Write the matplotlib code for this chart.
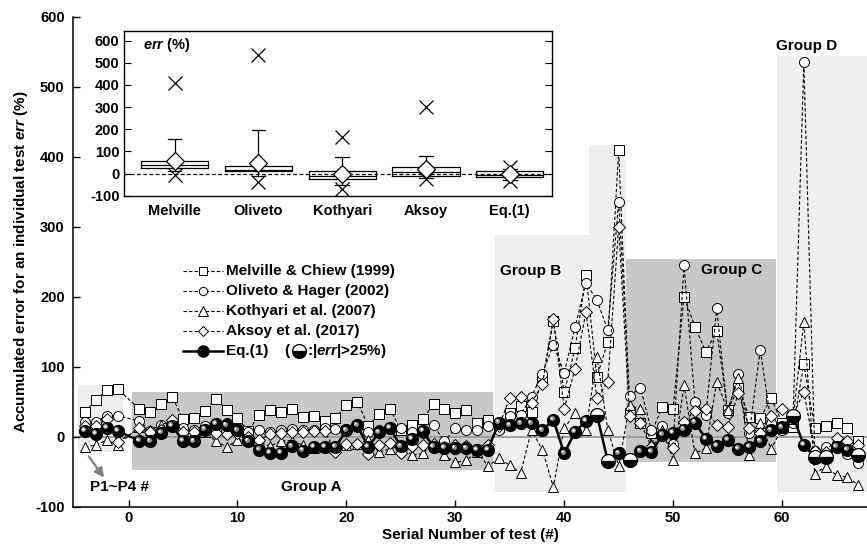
import numpy as np
import matplotlib
matplotlib.use("Agg")
import matplotlib.pyplot as plt
from matplotlib.patches import Rectangle
from matplotlib.lines import Line2D
from matplotlib.transforms import offset_copy

plt.rcParams['font.family'] = ['Liberation Sans', 'DejaVu Sans']
plt.rcParams['font.weight'] = 'bold'
plt.rcParams['axes.unicode_minus'] = False
plt.rcParams['mathtext.fontset'] = 'custom'
plt.rcParams['mathtext.it'] = 'Liberation Sans:italic:bold'
plt.rcParams['mathtext.rm'] = 'Liberation Sans:bold'

# P1~P4 sit at -4..-1, the tests proper run 1..67
tests = [-4, -3, -2, -1] + list(range(1, 68))

melville = [35, 52, 66, 68,
            39, 35, 46, 57, 25, 27, 37, 54, 38, 26,
            8, 31, 38, 35, 40, 28, 30, 22, 26, 45,
            50, 15, 32, 39, 10, 17, 25, 46, 40, 33,
            38, 19, 24, 14, 33, 44, 35, 81, 165, 63,
            126, 231, 85, 135, 409, 33, 19, 5, 42, 40,
            200, 157, 121, 151, 38, 69, 28, 26, 55, 20,
            14, 103, 12, 15, 19, 12, -7]
oliveto = [21, 21, 30, 30,
           22, 8, 16, 20, 12, 10, 15, 8, 20, 12,
           7, 10, 6, 10, 11, 10, 10, 12, 11, 11,
           14, 7, 10, 14, 12, 7, 5, 16, -7, 12,
           10, 9, 15, 10, 30, 31, 57, 90, 131, 91,
           157, 219, 195, 152, 335, 58, 70, 9, 15, -10,
           245, 50, 31, 183, 33, 90, 5, 124, 19, 10,
           20, 535, -20, -15, -10, -25, -38]
kothyari = [-15, -12, -5, -12,
            14, 10, 16, 24, 8, 7, 6, -6, -15, -5,
            -5, -8, -14, -6, -6, -12, -16, -15, -17, -12,
            -10, -5, -22, -18, -12, -27, -24, -10, -27, -37,
            -34, -22, -42, -31, -41, -52, 9, -19, -72, 12,
            33, 10, 114, 10, -42, 45, 39, -10, 9, -33,
            73, -24, -17, 78, 38, 83, -26, 19, -18, 12,
            25, 164, -53, -43, -55, -58, -69]
aksoy = [15, 15, 25, -8,
         12, 7, 10, 24, 7, 7, 10, 5, 3, 5,
         0, -5, 3, 5, 6, 7, 8, 8, -22, -11,
         -10, -25, -12, -9, -24, -14, -12, -10, -15, -12,
         -14, -20, -12, 15, 55, 56, 48, 75, 168, 40,
         97, 178, 55, 78, 300, 30, 20, -15, 3, -17,
         21, 37, 40, 16, 14, 62, 12, 5, 30, 39,
         30, 64, -20, -22, -2, -7, -12]
eq1 = [8, 4, 12, 8,
       -6, -7, 5, 15, -6, -7, 10, 18, 16, 9,
       -7, -19, -23, -23, -14, -20, -15, -15, -15, 9,
       16, -15, 6, 12, -14, -3, 8, -15, -16, -17,
       -17, -19, -19, 20, 16, 19, 19, 9, 24, -24,
       7, 22, 31, -35, -24, -34, -21, -22, 2, 5,
       10, 20, -3, -13, -5, -18, -15, -7, 9, 13,
       29, -12, -29, -29, -15, -19, -27]

labels = ["Melville & Chiew (1999)", "Oliveto & Hager (2002)",
          "Kothyari et al. (2007)", "Aksoy et al. (2017)"]
short_names = ["Melville", "Oliveto", "Kothyari", "Aksoy", "Eq.(1)"]

# shaded test groups: (x0, x1, y0, y1, shade)
groups = [(-4.65, -0.52, -22, 74, 'light'),
          (0.34, 33.5, -48, 63, 'dark'),
          (33.6, 45.7, -79, 288, 'light'),
          (42.3, 45.7, 288, 416, 'light'),
          (45.7, 59.4, -37, 253, 'dark'),
          (59.5, 68.5, -79, 543, 'light')]
group_text = [("P1~P4 #", -0.8, -72), ("Group A", 16.8, -72),
              ("Group B", 36.9, 236), ("Group C", 55.4, 238),
              ("Group D", 62.3, 558)]
shade = {'light': '#eef0f0', 'dark': '#c8c8c8'}

fig = plt.figure(figsize=(8.67, 5.5), dpi=100)
ax = fig.add_axes([0.0842, 0.079, 0.9158, 0.891])

for x0, x1, y0, y1, s in groups:
    ax.add_patch(Rectangle((x0, y0), x1 - x0, y1 - y0, color=shade[s], lw=0, zorder=0))
ax.axhline(0, color='#9a9a9a', lw=1.3, zorder=1)

markers = ['s', 'o', '^', 'D']
sizes = [6.8, 7.2, 7.8, 6.6]
for vals, m, ms in zip([melville, oliveto, kothyari, aksoy], markers, sizes):
    ax.plot(tests, vals, ls=(0, (3, 2)), lw=0.8, color='black', marker=m, ms=ms,
            mfc='white', mec='black', mew=0.7, zorder=3)

eq = np.array(eq1)
tx = np.array(tests)
big = np.abs(eq) > 25
ax.plot(tx, eq, '-', color='black', lw=1.8, zorder=4)
ax.plot(tx[~big], eq[~big], 'o', ms=8.5, color='black', zorder=5)
# glossy highlight on the solid spheres
ax.plot(tx[~big], eq[~big], 'o', ms=3.6, color='#8c8c8c', mew=0, zorder=6,
        transform=offset_copy(ax.transData, fig=fig, x=-1.2, y=1.2, units='points'))
ax.plot(tx[~big], eq[~big], 'o', ms=1.8, color='white', mew=0, zorder=7,
        transform=offset_copy(ax.transData, fig=fig, x=-1.5, y=1.5, units='points'))
ax.plot(tx[big], eq[big], 'o', ms=10, fillstyle='bottom', mfc='black',
        mfcalt='white', mec='black', mew=0.9, zorder=5)

for txt, x, y in group_text:
    ax.text(x, y, txt, ha='center', va='center', fontsize=11, fontweight='bold', zorder=8)
ax.annotate('', xy=(-2.1, -62), xytext=(-3.8, -25),
            arrowprops=dict(arrowstyle='-|>', color='#808080', lw=1.6, mutation_scale=14))

ax.set_xlim(-5.1, 67.8)
ax.set_ylim(-100, 600)
ax.set_xticks(range(0, 61, 10))
ax.set_yticks(range(-100, 601, 100))
ax.tick_params(direction='in', length=5, labelsize=10.5, width=1)
ax.tick_params(axis='y', pad=6)
for lab in ax.get_xticklabels() + ax.get_yticklabels():
    lab.set_fontweight('bold')
for side in ['top', 'right']:
    ax.spines[side].set_visible(False)
for side in ['left', 'bottom']:
    ax.spines[side].set_linewidth(1.1)
ax.set_xlabel("Serial Number of test (#)", fontsize=11, fontweight='bold', labelpad=2)
ax.set_ylabel("Accumulated error for an individual test $err$ (%)", fontsize=11,
              fontweight='bold', labelpad=4)

# legend, laid out row by row
W, H = 867.0, 550.0
rows = [('s', 6.0), ('o', 6.0), ('^', 6.6), ('D', 5.6)]
for i, ((m, ms), lab) in enumerate(zip(rows, labels)):
    yy = 1 - (271 + 20 * i) / H
    fig.add_artist(Line2D([183 / W, 203 / W, 223 / W], [yy] * 3, ls=(0, (3, 2)), lw=0.8,
                          color='black', marker=m, ms=ms, mfc='white', mec='black',
                          mew=0.7, markevery=[1], transform=fig.transFigure))
    fig.text(226 / W, yy, lab, fontsize=11, fontweight='bold', va='center')
yy = 1 - 351 / H
fig.add_artist(Line2D([183 / W, 203 / W, 223 / W], [yy] * 3, lw=1.8, color='black',
                      marker='o', ms=8, markevery=[1], transform=fig.transFigure))
fig.text(226 / W, yy, "Eq.(1)", fontsize=11, fontweight='bold', va='center')
fig.text(284 / W, yy, "(", fontsize=11, fontweight='bold', va='center')
fig.add_artist(Line2D([299 / W], [yy], marker='o', ms=10, fillstyle='bottom', mfc='black',
                      mfcalt='white', mec='black', mew=0.9, transform=fig.transFigure))
fig.text(307 / W, yy, ":|$err$|>25%)", fontsize=11, fontweight='bold', va='center')

# inset: distribution of err for each method
ax_in = fig.add_axes([124.3 / W, 1 - 195.7 / H, 427.4 / W, 165 / H])
data = [melville, oliveto, kothyari, aksoy, eq1]
pos = np.arange(1, 6)
ax_in.axhline(0, color='black', lw=0.9, ls=(0, (3, 2)), zorder=1)
ax_in.boxplot(data, positions=pos, widths=0.8, whis=(5, 95), showfliers=False,
              showmeans=True, capwidths=0.16,
              boxprops=dict(color='black', lw=0.9),
              medianprops=dict(color='black', lw=0.9),
              whiskerprops=dict(color='black', lw=0.9),
              capprops=dict(color='black', lw=0.9),
              meanprops=dict(marker='D', mfc='white', mec='black', ms=9.5, mew=0.9))
ax_in.plot(pos, [max(d) for d in data], 'x', color='black', ms=10, mew=0.9)
ax_in.plot(pos, [min(d) for d in data], 'x', color='black', ms=10, mew=0.9)
ax_in.set_xlim(0.4, 5.5)
ax_in.set_ylim(-100, 645)
ax_in.set_yticks(range(-100, 601, 100))
ax_in.set_xticks(pos)
ax_in.set_xticklabels(short_names)
ax_in.tick_params(axis='y', direction='in', length=5, right=True, labelsize=10.5)
ax_in.tick_params(axis='x', length=0, labelsize=10.5, pad=6)
for lab in ax_in.get_xticklabels() + ax_in.get_yticklabels():
    lab.set_fontweight('bold')
for sp in ax_in.spines.values():
    sp.set_linewidth(1.0)
ax_in.text(0.62, 582, "$err$ (%)", fontsize=10.5, fontweight='bold', va='center')

fig.savefig("out.png", dpi=100)
